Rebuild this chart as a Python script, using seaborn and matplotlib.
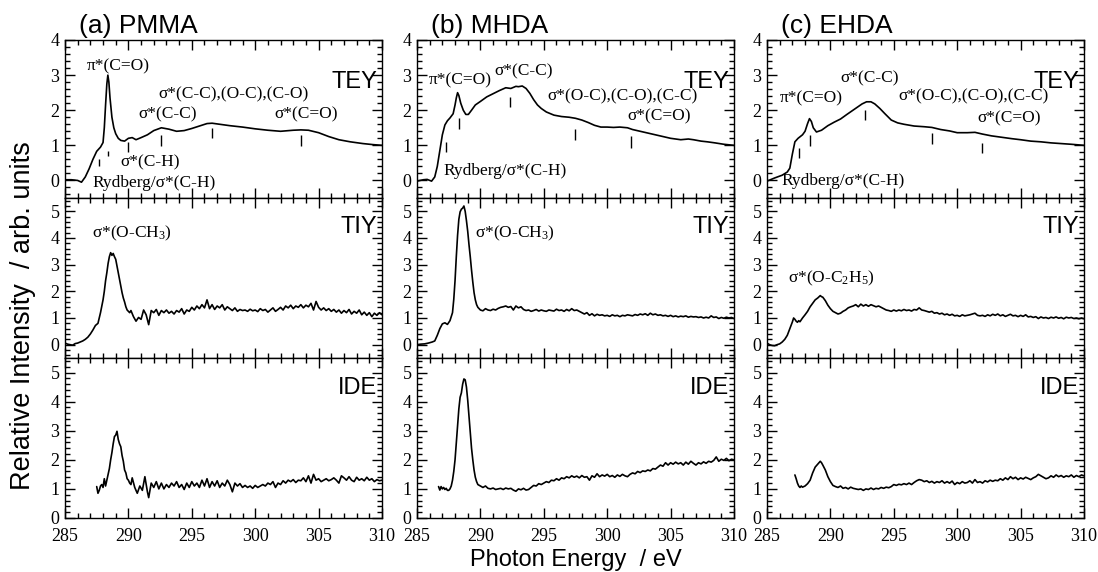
import matplotlib
matplotlib.use("Agg")
import matplotlib.pyplot as plt
from matplotlib.ticker import MultipleLocator
import seaborn as sns

# ---- spectra: (photon energy eV, relative intensity) ----
pmma_tey = [
    (285.0, 0.02), (285.5, 0.02), (286.0, 0.0), (286.3, -0.05), (286.6, 0.1), (286.9, 0.33),
    (287.2, 0.6), (287.5, 0.83), (287.8, 0.95), (288.0, 1.08), (288.1, 1.5), (288.2, 2.15),
    (288.3, 2.75), (288.38, 3.0), (288.46, 2.8), (288.55, 2.35), (288.7, 1.8), (288.85, 1.5),
    (289.0, 1.33), (289.2, 1.2), (289.4, 1.14), (289.7, 1.12), (290.0, 1.2), (290.3, 1.22),
    (290.6, 1.16), (291.0, 1.22), (291.5, 1.3), (292.0, 1.42), (292.6, 1.5), (293.2, 1.46),
    (293.8, 1.4), (294.4, 1.42), (295.0, 1.48), (295.6, 1.55), (296.2, 1.62), (296.6, 1.63),
    (297.2, 1.6), (298.0, 1.56), (299.0, 1.52), (300.0, 1.47), (301.0, 1.43), (302.0, 1.4),
    (303.0, 1.43), (303.6, 1.44), (304.2, 1.43), (305.0, 1.36), (305.8, 1.25), (306.6, 1.16),
    (307.5, 1.1), (308.5, 1.05), (309.3, 1.02), (310.0, 1.0),
]
mhda_tey = [
    (285.0, -0.02), (285.5, 0.02), (285.8, 0.03), (286.15, -0.02), (286.4, 0.1), (286.6, 0.4),
    (286.8, 0.85), (287.0, 1.3), (287.2, 1.58), (287.4, 1.7), (287.6, 1.78), (287.85, 1.9),
    (288.0, 2.15), (288.1, 2.35), (288.2, 2.5), (288.3, 2.42), (288.45, 2.2), (288.65, 2.0),
    (288.85, 1.88), (289.05, 1.88), (289.3, 2.0), (289.6, 2.15), (290.0, 2.25), (290.5, 2.38),
    (291.0, 2.47), (291.5, 2.56), (292.0, 2.64), (292.4, 2.62), (292.8, 2.68), (293.0, 2.67),
    (293.3, 2.69), (293.6, 2.62), (293.9, 2.48), (294.2, 2.3), (294.5, 2.15), (294.8, 2.05),
    (295.2, 1.95), (295.8, 1.86), (296.4, 1.82), (297.0, 1.8), (297.5, 1.77), (298.0, 1.72),
    (298.5, 1.65), (299.0, 1.57), (299.5, 1.52), (300.0, 1.52), (300.5, 1.51), (301.0, 1.52),
    (301.6, 1.5), (302.0, 1.45), (302.6, 1.4), (303.2, 1.35), (303.8, 1.3), (304.4, 1.25),
    (305.0, 1.2), (305.8, 1.16), (306.4, 1.18), (306.8, 1.16), (307.4, 1.12), (307.9, 1.1),
    (308.5, 1.07), (309.2, 1.03), (310.0, 1.0),
]
ehda_tey = [
    (285.0, -0.02), (285.6, 0.07), (286.2, 0.15), (286.6, 0.24), (286.8, 0.35), (287.0, 0.75),
    (287.2, 1.1), (287.45, 1.2), (287.8, 1.3), (288.0, 1.4), (288.2, 1.62), (288.35, 1.76),
    (288.5, 1.68), (288.65, 1.5), (288.9, 1.38), (289.3, 1.43), (289.8, 1.56), (290.3, 1.66),
    (290.8, 1.75), (291.3, 1.88), (291.7, 1.98), (292.1, 2.08), (292.5, 2.18), (292.85, 2.24),
    (293.2, 2.24), (293.5, 2.18), (293.9, 2.05), (294.3, 1.9), (294.8, 1.72), (295.3, 1.64),
    (295.8, 1.6), (296.6, 1.55), (297.4, 1.53), (298.0, 1.51), (298.7, 1.45), (299.4, 1.41),
    (300.0, 1.36), (300.8, 1.36), (301.4, 1.37), (302.0, 1.32), (302.7, 1.27), (303.5, 1.23),
    (304.3, 1.19), (305.0, 1.16), (305.8, 1.12), (306.6, 1.1), (307.4, 1.07), (308.2, 1.05),
    (309.0, 1.03), (310.0, 1.0),
]

pmma_tiy = [
    (285.0, 0.06), (285.2, 0.02), (285.4, 0.0), (285.6, -0.02), (285.8, 0.04), (286.0, 0.06),
    (286.2, 0.1), (286.4, 0.14), (286.6, 0.2), (286.8, 0.28), (287.0, 0.4), (287.2, 0.55),
    (287.4, 0.72), (287.6, 0.8), (287.8, 1.2), (287.9, 1.45), (288.0, 1.68), (288.1, 2.0),
    (288.2, 2.4), (288.3, 2.7), (288.4, 3.05), (288.5, 3.3), (288.6, 3.45), (288.7, 3.35),
    (288.8, 3.42), (288.9, 3.3), (289.0, 3.2), (289.1, 2.95), (289.2, 2.7), (289.3, 2.45),
    (289.4, 2.2), (289.5, 1.95), (289.6, 1.75), (289.7, 1.6), (289.8, 1.42), (289.9, 1.3),
    (290.0, 1.25), (290.1, 1.2), (290.2, 1.28), (290.4, 1.05), (290.6, 0.88), (290.8, 1.02),
    (291.0, 0.95), (291.2, 1.3), (291.4, 1.12), (291.6, 0.75), (291.8, 1.28), (292.0, 1.2),
    (292.2, 1.32), (292.4, 1.1), (292.6, 1.28), (292.8, 1.2), (293.0, 1.3), (293.2, 1.18),
    (293.4, 1.25), (293.6, 1.15), (293.8, 1.28), (294.0, 1.22), (294.2, 1.35), (294.4, 1.15),
    (294.6, 1.3), (294.8, 1.25), (295.0, 1.4), (295.2, 1.3), (295.4, 1.45), (295.6, 1.35),
    (295.8, 1.5), (296.0, 1.38), (296.2, 1.68), (296.4, 1.35), (296.6, 1.5), (296.8, 1.32),
    (297.0, 1.45), (297.2, 1.38), (297.4, 1.5), (297.6, 1.3), (297.8, 1.42), (298.0, 1.35),
    (298.2, 1.28), (298.4, 1.38), (298.6, 1.25), (298.8, 1.32), (299.0, 1.28), (299.2, 1.3),
    (299.4, 1.25), (299.6, 1.33), (299.8, 1.27), (300.0, 1.3), (300.2, 1.24), (300.4, 1.35),
    (300.6, 1.28), (300.8, 1.32), (301.0, 1.22), (301.2, 1.3), (301.4, 1.38), (301.6, 1.25),
    (301.8, 1.32), (302.0, 1.4), (302.2, 1.3), (302.4, 1.45), (302.6, 1.38), (302.8, 1.48),
    (303.0, 1.35), (303.2, 1.45), (303.4, 1.4), (303.6, 1.5), (303.8, 1.38), (304.0, 1.48),
    (304.2, 1.42), (304.4, 1.55), (304.6, 1.3), (304.8, 1.62), (305.0, 1.4), (305.2, 1.3),
    (305.4, 1.38), (305.6, 1.28), (305.8, 1.35), (306.0, 1.25), (306.2, 1.32), (306.4, 1.22),
    (306.6, 1.3), (306.8, 1.18), (307.0, 1.28), (307.2, 1.2), (307.4, 1.32), (307.6, 1.15),
    (307.8, 1.25), (308.0, 1.18), (308.2, 1.3), (308.4, 1.12), (308.6, 1.22), (308.8, 1.1),
    (309.0, 1.2), (309.2, 1.05), (309.4, 1.18), (309.6, 1.1), (309.8, 1.2), (310.0, 1.12),
]
mhda_tiy = [
    (285.0, 0.0), (285.3, 0.02), (285.6, 0.03), (285.9, 0.06), (286.2, 0.1), (286.4, 0.14),
    (286.6, 0.35), (286.8, 0.6), (287.0, 0.78), (287.2, 0.82), (287.4, 0.76), (287.6, 0.9),
    (287.8, 1.2), (287.9, 1.7), (288.0, 2.4), (288.1, 3.3), (288.2, 4.1), (288.3, 4.7),
    (288.4, 4.98), (288.5, 5.08), (288.6, 5.12), (288.7, 5.2), (288.8, 5.0), (288.9, 4.65),
    (289.0, 4.25), (289.1, 3.75), (289.2, 3.3), (289.3, 2.8), (289.4, 2.35), (289.5, 1.95),
    (289.6, 1.68), (289.7, 1.5), (289.8, 1.4), (290.0, 1.3), (290.2, 1.27), (290.4, 1.35),
    (290.6, 1.3), (290.8, 1.28), (291.0, 1.33), (291.2, 1.3), (291.4, 1.36), (291.6, 1.4),
    (291.8, 1.42), (292.0, 1.45), (292.2, 1.4), (292.4, 1.43), (292.6, 1.3), (292.8, 1.45),
    (293.0, 1.38), (293.2, 1.42), (293.4, 1.32), (293.6, 1.28), (293.8, 1.3), (294.0, 1.25),
    (294.2, 1.28), (294.4, 1.32), (294.6, 1.26), (294.8, 1.3), (295.0, 1.27), (295.2, 1.25),
    (295.4, 1.3), (295.6, 1.28), (295.8, 1.26), (296.0, 1.33), (296.2, 1.28), (296.4, 1.3),
    (296.6, 1.25), (296.8, 1.32), (297.0, 1.27), (297.2, 1.35), (297.4, 1.28), (297.6, 1.3),
    (297.8, 1.25), (298.0, 1.2), (298.2, 1.15), (298.4, 1.2), (298.6, 1.1), (298.8, 1.16),
    (299.0, 1.08), (299.2, 1.14), (299.4, 1.1), (299.6, 1.12), (299.8, 1.08), (300.0, 1.1),
    (300.2, 1.06), (300.4, 1.12), (300.6, 1.08), (300.8, 1.1), (301.0, 1.05), (301.2, 1.1),
    (301.4, 1.08), (301.6, 1.12), (301.8, 1.1), (302.0, 1.08), (302.2, 1.13), (302.4, 1.1),
    (302.6, 1.15), (302.8, 1.12), (303.0, 1.16), (303.2, 1.1), (303.4, 1.18), (303.6, 1.12),
    (303.8, 1.15), (304.0, 1.1), (304.2, 1.12), (304.4, 1.08), (304.6, 1.1), (304.8, 1.06),
    (305.0, 1.1), (305.2, 1.05), (305.4, 1.08), (305.6, 1.04), (305.8, 1.07), (306.0, 1.05),
    (306.2, 1.08), (306.4, 1.03), (306.6, 1.06), (306.8, 1.04), (307.0, 1.05), (307.2, 1.02),
    (307.4, 1.04), (307.6, 1.0), (307.8, 1.03), (308.0, 1.0), (308.2, 1.08), (308.4, 1.02),
    (308.6, 1.04), (308.8, 0.98), (309.0, 1.02), (309.2, 0.99), (309.4, 1.03), (309.6, 1.0),
    (309.8, 1.02), (310.0, 0.98),
]
ehda_tiy = [
    (285.0, 0.06), (285.2, 0.0), (285.4, -0.03), (285.6, -0.04), (285.8, 0.0), (286.0, 0.03),
    (286.2, 0.1), (286.4, 0.2), (286.6, 0.35), (286.8, 0.6), (287.0, 0.85), (287.1, 1.0),
    (287.2, 0.95), (287.3, 0.88), (287.4, 0.84), (287.5, 0.9), (287.6, 0.86), (287.8, 1.0),
    (288.0, 1.12), (288.2, 1.25), (288.4, 1.42), (288.6, 1.55), (288.8, 1.68), (289.0, 1.75),
    (289.2, 1.84), (289.3, 1.8), (289.4, 1.78), (289.6, 1.65), (289.8, 1.48), (290.0, 1.35),
    (290.2, 1.25), (290.4, 1.2), (290.6, 1.15), (290.8, 1.18), (291.0, 1.25), (291.2, 1.3),
    (291.4, 1.38), (291.6, 1.42), (291.8, 1.45), (292.0, 1.5), (292.2, 1.42), (292.4, 1.52),
    (292.6, 1.45), (292.8, 1.5), (293.0, 1.44), (293.2, 1.5), (293.4, 1.46), (293.6, 1.42),
    (293.8, 1.45), (294.0, 1.4), (294.2, 1.35), (294.4, 1.3), (294.6, 1.28), (294.8, 1.25),
    (295.0, 1.3), (295.2, 1.26), (295.4, 1.3), (295.6, 1.27), (295.8, 1.32), (296.0, 1.28),
    (296.2, 1.3), (296.4, 1.26), (296.6, 1.32), (296.8, 1.3), (297.0, 1.38), (297.2, 1.3),
    (297.4, 1.28), (297.6, 1.25), (297.8, 1.22), (298.0, 1.25), (298.2, 1.18), (298.4, 1.2),
    (298.6, 1.15), (298.8, 1.18), (299.0, 1.12), (299.2, 1.15), (299.4, 1.1), (299.6, 1.14),
    (299.8, 1.08), (300.0, 1.1), (300.2, 1.06), (300.4, 1.12), (300.6, 1.08), (300.8, 1.1),
    (301.0, 1.12), (301.2, 1.15), (301.4, 1.18), (301.6, 1.1), (301.8, 1.08), (302.0, 1.1),
    (302.2, 1.06), (302.4, 1.12), (302.6, 1.08), (302.8, 1.14), (303.0, 1.1), (303.2, 1.15),
    (303.4, 1.08), (303.6, 1.12), (303.8, 1.06), (304.0, 1.1), (304.2, 1.14), (304.4, 1.08),
    (304.6, 1.1), (304.8, 1.05), (305.0, 1.1), (305.2, 1.06), (305.4, 1.12), (305.6, 1.04),
    (305.8, 1.06), (306.0, 1.02), (306.2, 1.05), (306.4, 0.98), (306.6, 1.04), (306.8, 1.0),
    (307.0, 1.02), (307.2, 0.98), (307.4, 1.03), (307.6, 1.0), (307.8, 1.04), (308.0, 0.99),
    (308.2, 1.02), (308.4, 0.97), (308.6, 1.03), (308.8, 1.0), (309.0, 1.02), (309.2, 0.98),
    (309.4, 1.0), (309.6, 0.97), (309.8, 1.0), (310.0, 0.97),
]

pmma_ide = [
    (287.5, 1.08), (287.6, 0.85), (287.7, 0.95), (287.8, 1.1), (287.9, 1.15), (288.0, 1.05),
    (288.1, 1.35), (288.2, 1.1), (288.3, 1.3), (288.4, 1.5), (288.5, 1.7), (288.6, 2.0),
    (288.7, 2.25), (288.8, 2.55), (288.9, 2.8), (289.0, 2.85), (289.1, 2.98), (289.2, 2.7),
    (289.3, 2.55), (289.4, 2.45), (289.5, 2.15), (289.6, 1.95), (289.7, 1.65), (289.8, 1.55),
    (289.9, 1.35), (290.0, 1.3), (290.1, 1.2), (290.2, 1.15), (290.3, 1.38), (290.5, 1.05),
    (290.7, 0.85), (290.9, 1.1), (291.1, 0.95), (291.3, 1.42), (291.5, 0.9), (291.6, 0.7),
    (291.8, 1.2), (292.0, 1.05), (292.2, 1.25), (292.4, 1.0), (292.6, 1.2), (292.8, 1.0),
    (293.0, 1.15), (293.2, 1.05), (293.4, 1.2), (293.6, 1.1), (293.8, 1.25), (294.0, 1.05),
    (294.2, 1.15), (294.4, 0.98), (294.6, 1.2), (294.8, 1.05), (295.0, 1.25), (295.2, 1.1),
    (295.4, 1.2), (295.6, 1.05), (295.8, 1.3), (296.0, 1.1), (296.2, 1.35), (296.4, 1.05),
    (296.6, 1.25), (296.8, 1.1), (297.0, 1.28), (297.2, 1.05), (297.4, 1.2), (297.6, 1.1),
    (297.8, 1.3), (298.0, 1.15), (298.2, 0.9), (298.4, 1.2), (298.6, 1.1), (298.8, 1.18),
    (299.0, 1.05), (299.2, 1.12), (299.4, 1.05), (299.6, 1.1), (299.8, 1.02), (300.0, 1.12),
    (300.2, 1.05), (300.4, 1.1), (300.6, 1.15), (300.8, 1.1), (301.0, 1.2), (301.2, 1.15),
    (301.4, 1.25), (301.6, 1.05), (301.8, 1.2), (302.0, 1.15), (302.2, 1.28), (302.4, 1.2),
    (302.6, 1.3), (302.8, 1.25), (303.0, 1.32), (303.2, 1.22), (303.4, 1.3), (303.6, 1.28),
    (303.8, 1.38), (304.0, 1.25), (304.2, 1.45), (304.4, 1.2), (304.6, 1.5), (304.8, 1.3),
    (305.0, 1.35), (305.2, 1.25), (305.4, 1.3), (305.6, 1.35), (305.8, 1.28), (306.0, 1.32),
    (306.2, 1.38), (306.4, 1.3), (306.6, 1.2), (306.8, 1.45), (307.0, 1.38), (307.2, 1.3),
    (307.4, 1.42), (307.6, 1.3), (307.8, 1.25), (308.0, 1.4), (308.2, 1.3), (308.4, 1.35),
    (308.6, 1.28), (308.8, 1.4), (309.0, 1.3), (309.2, 1.35), (309.4, 1.25), (309.6, 1.32),
    (309.8, 1.28), (310.0, 1.3),
]
mhda_ide = [
    (286.7, 1.08), (286.8, 0.96), (286.9, 1.08), (287.0, 1.0), (287.1, 1.05), (287.2, 0.98),
    (287.3, 1.02), (287.4, 0.95), (287.5, 0.95), (287.6, 1.0), (287.7, 1.1), (287.8, 1.3),
    (287.9, 1.6), (288.0, 2.0), (288.1, 2.6), (288.2, 3.2), (288.3, 3.75), (288.4, 4.15),
    (288.5, 4.3), (288.6, 4.6), (288.7, 4.78), (288.8, 4.75), (288.9, 4.5), (289.0, 4.05),
    (289.1, 3.5), (289.2, 2.95), (289.3, 2.4), (289.4, 2.0), (289.5, 1.65), (289.6, 1.4),
    (289.7, 1.25), (289.8, 1.15), (290.0, 1.1), (290.2, 1.05), (290.4, 1.1), (290.6, 1.02),
    (290.8, 1.0), (291.0, 1.03), (291.2, 0.98), (291.4, 1.0), (291.6, 1.02), (291.8, 0.98),
    (292.0, 1.03), (292.2, 1.0), (292.4, 1.02), (292.6, 0.96), (292.8, 0.92), (293.0, 1.0),
    (293.2, 0.97), (293.4, 1.02), (293.6, 0.96), (293.8, 0.98), (294.0, 1.05), (294.2, 1.12),
    (294.4, 1.1), (294.6, 1.18), (294.8, 1.15), (295.0, 1.2), (295.2, 1.25), (295.4, 1.22),
    (295.6, 1.3), (295.8, 1.28), (296.0, 1.35), (296.2, 1.3), (296.4, 1.38), (296.6, 1.35),
    (296.8, 1.42), (297.0, 1.38), (297.2, 1.45), (297.4, 1.4), (297.6, 1.44), (297.8, 1.38),
    (298.0, 1.46), (298.2, 1.4), (298.4, 1.42), (298.6, 1.3), (298.8, 1.45), (299.0, 1.4),
    (299.2, 1.52), (299.4, 1.42), (299.6, 1.48), (299.8, 1.44), (300.0, 1.5), (300.2, 1.42),
    (300.4, 1.46), (300.6, 1.4), (300.8, 1.48), (301.0, 1.43), (301.2, 1.5), (301.4, 1.45),
    (301.6, 1.42), (301.8, 1.5), (302.0, 1.55), (302.2, 1.52), (302.4, 1.6), (302.6, 1.56),
    (302.8, 1.62), (303.0, 1.6), (303.2, 1.65), (303.4, 1.62), (303.6, 1.7), (303.8, 1.68),
    (304.0, 1.75), (304.2, 1.82), (304.4, 1.78), (304.6, 1.9), (304.8, 1.82), (305.0, 1.9),
    (305.2, 1.85), (305.4, 1.92), (305.6, 1.86), (305.8, 1.9), (306.0, 1.82), (306.2, 1.92),
    (306.4, 1.85), (306.6, 1.95), (306.8, 1.88), (307.0, 1.82), (307.2, 1.9), (307.4, 1.86),
    (307.6, 1.93), (307.8, 1.88), (308.0, 1.95), (308.2, 1.92), (308.4, 1.98), (308.6, 2.1),
    (308.8, 1.95), (309.0, 2.02), (309.2, 1.98), (309.4, 2.05), (309.6, 1.97), (309.8, 2.02),
    (310.0, 2.0),
]
ehda_ide = [
    (287.2, 1.48), (287.3, 1.35), (287.4, 1.2), (287.5, 1.1), (287.6, 1.05), (287.7, 1.1),
    (287.8, 1.06), (288.0, 1.1), (288.2, 1.18), (288.4, 1.3), (288.6, 1.55), (288.8, 1.75),
    (289.0, 1.85), (289.2, 1.95), (289.3, 1.9), (289.4, 1.82), (289.6, 1.65), (289.8, 1.42),
    (290.0, 1.25), (290.2, 1.12), (290.4, 1.08), (290.6, 1.05), (290.8, 1.1), (291.0, 1.02),
    (291.2, 1.05), (291.4, 1.0), (291.6, 1.06), (291.8, 1.02), (292.0, 1.0), (292.2, 0.98),
    (292.4, 1.0), (292.6, 0.95), (292.8, 1.0), (293.0, 0.98), (293.2, 1.03), (293.4, 0.98),
    (293.6, 1.02), (293.8, 1.0), (294.0, 1.05), (294.2, 1.02), (294.4, 1.06), (294.6, 1.04),
    (294.8, 1.08), (295.0, 1.15), (295.2, 1.12), (295.4, 1.16), (295.6, 1.14), (295.8, 1.18),
    (296.0, 1.15), (296.2, 1.2), (296.4, 1.15), (296.6, 1.22), (296.8, 1.28), (297.0, 1.32),
    (297.2, 1.3), (297.4, 1.25), (297.6, 1.28), (297.8, 1.22), (298.0, 1.26), (298.2, 1.2),
    (298.4, 1.25), (298.6, 1.22), (298.8, 1.28), (299.0, 1.2), (299.2, 1.25), (299.4, 1.2),
    (299.6, 1.27), (299.8, 1.15), (300.0, 1.22), (300.2, 1.18), (300.4, 1.25), (300.6, 1.2),
    (300.8, 1.22), (301.0, 1.28), (301.2, 1.2), (301.4, 1.32), (301.6, 1.22), (301.8, 1.25),
    (302.0, 1.2), (302.2, 1.28), (302.4, 1.24), (302.6, 1.3), (302.8, 1.26), (303.0, 1.3),
    (303.2, 1.28), (303.4, 1.35), (303.6, 1.3), (303.8, 1.38), (304.0, 1.32), (304.2, 1.42),
    (304.4, 1.35), (304.6, 1.4), (304.8, 1.32), (305.0, 1.38), (305.2, 1.34), (305.4, 1.4),
    (305.6, 1.36), (305.8, 1.32), (306.0, 1.38), (306.2, 1.42), (306.4, 1.5), (306.6, 1.45),
    (306.8, 1.4), (307.0, 1.35), (307.2, 1.38), (307.4, 1.45), (307.6, 1.4), (307.8, 1.48),
    (308.0, 1.42), (308.2, 1.46), (308.4, 1.4), (308.6, 1.45), (308.8, 1.42), (309.0, 1.48),
    (309.2, 1.4), (309.4, 1.46), (309.6, 1.42), (309.8, 1.48), (310.0, 1.45),
]

# resonance markers on TEY: (energy, bottom, top)
pmma_marks = [(287.7, 0.4, 0.6), (288.4, 0.69, 0.83), (290.0, 0.8, 1.1),
              (292.6, 0.97, 1.3), (296.6, 1.2, 1.5), (303.6, 0.99, 1.3)]
mhda_marks = [(287.3, 0.8, 1.1), (288.3, 1.46, 1.78), (292.35, 2.09, 2.39),
              (297.5, 1.16, 1.46), (301.85, 0.93, 1.26)]
ehda_marks = [(287.5, 0.64, 0.93), (288.4, 0.99, 1.3), (292.7, 1.71, 2.01),
              (298.0, 1.05, 1.35), (301.95, 0.78, 1.08)]

# peak assignments: (text, energy, intensity)
pmma_notes = [("π*(C=O)", 289.2, 3.25), ("σ*(C-C),(O-C),(C-O)", 298.25, 2.44),
              ("σ*(C-C)", 293.1, 1.87), ("σ*(C=O)", 304.0, 1.87),
              ("σ*(C-H)", 291.7, 0.5), ("Rydberg/σ*(C-H)", 292.0, -0.06)]
mhda_notes = [("π*(C=O)", 288.4, 2.86), ("σ*(C-C)", 293.4, 3.1),
              ("σ*(O-C),(C-O),(C-C)", 301.2, 2.39), ("σ*(C=O)", 304.1, 1.82),
              ("Rydberg/σ*(C-H)", 291.95, 0.26)]
ehda_notes = [("σ*(C-C)", 293.1, 2.91), ("π*(C=O)", 288.5, 2.34),
              ("σ*(O-C),(C-O),(C-C)", 301.25, 2.39), ("σ*(C=O)", 304.1, 1.78),
              ("Rydberg/σ*(C-H)", 291.0, -0.02)]
tiy_notes = [("σ*(O-CH$_\\mathregular{3}$)", 290.3, 4.18),
             ("σ*(O-CH$_\\mathregular{3}$)", 292.7, 4.18),
             ("σ*(O-C$_\\mathregular{2}$H$_\\mathregular{5}$)", 290.1, 2.5)]

titles = ["(a) PMMA", "(b) MHDA", "(c) EHDA"]
modes = ["TEY", "TIY", "IDE"]
mode_y = [2.8, 4.43, 4.46]
x_ticks = [285, 290, 295, 300, 305, 310]

sns.set_style("ticks")
plt.rcParams["font.family"] = ["Liberation Serif", "DejaVu Serif"]
plt.rcParams["mathtext.fontset"] = "custom"
plt.rcParams["mathtext.rm"] = "Liberation Serif"
plt.rcParams["mathtext.it"] = "Liberation Serif:italic"
for key in ["text.color", "axes.labelcolor", "xtick.color", "ytick.color", "axes.edgecolor"]:
    plt.rcParams[key] = "black"
SANS = ["Liberation Sans", "DejaVu Sans"]

fig = plt.figure(figsize=(10.98, 5.72), dpi=100)

W, H = 1098.0, 572.0
col_left = [65, 417, 767]
row_px = [(40, 198), (198, 358), (358, 518)]
ylims = [(-0.5, 4.0), (-0.5, 5.5), (0.0, 5.5)]
yticks = [[0, 1, 2, 3, 4], [0, 1, 2, 3, 4, 5], [0, 1, 2, 3, 4, 5]]

spectra = [[pmma_tey, mhda_tey, ehda_tey],
           [pmma_tiy, mhda_tiy, ehda_tiy],
           [pmma_ide, mhda_ide, ehda_ide]]
marks = [pmma_marks, mhda_marks, ehda_marks]
notes = [pmma_notes, mhda_notes, ehda_notes]

for c in range(3):
    for r in range(3):
        top, bot = row_px[r]
        ax = fig.add_axes([col_left[c] / W, 1 - bot / H, 317 / W, (bot - top) / H])
        e = [p[0] for p in spectra[r][c]]
        v = [p[1] for p in spectra[r][c]]
        sns.lineplot(x=e, y=v, ax=ax, color="black", lw=1.2, sort=False, estimator=None)

        ax.set_xlim(285, 310)
        ax.set_ylim(*ylims[r])
        ax.set_xticks(x_ticks)
        ax.set_yticks(yticks[r])
        ax.xaxis.set_minor_locator(MultipleLocator(1))
        ax.yaxis.set_minor_locator(MultipleLocator(0.2))
        ax.tick_params(which="both", direction="in", top=True, right=True,
                       labelsize=13, width=1, color="black", labelcolor="black")
        ax.tick_params(axis="y", pad=4)
        ax.tick_params(axis="x", pad=7)
        ax.tick_params(which="major", length=7)
        ax.tick_params(which="minor", length=3.5)
        if r < 2:
            ax.set_xticklabels([])
        for s in ax.spines.values():
            s.set_linewidth(1)
            s.set_color("black")
        ax.set_xlabel("")
        ax.set_ylabel("")

        ax.text(309.6, mode_y[r], modes[r], ha="right", va="center",
                fontsize=17, family=SANS)

        if r == 0:
            ax.text(0.045, 1.045, titles[c], transform=ax.transAxes,
                    ha="left", va="baseline", fontsize=19, family=SANS)
            ax.vlines([m[0] for m in marks[c]], [m[1] for m in marks[c]],
                      [m[2] for m in marks[c]], color="black", lw=1)
            for txt, x, y in notes[c]:
                ax.text(x, y, txt, ha="center", va="center", fontsize=12.5)
        elif r == 1:
            txt, x, y = tiy_notes[c]
            ax.text(x, y, txt, ha="center", va="center", fontsize=12.5)

fig.text(0.021, 0.449, "Relative Intensity  / arb. units", rotation=90,
         ha="center", va="center", fontsize=19.5, family=SANS)
fig.text(0.5246, 0.04, "Photon Energy  / eV", ha="center", va="top",
         fontsize=17, family=SANS)

fig.savefig("out.png", dpi=100)
